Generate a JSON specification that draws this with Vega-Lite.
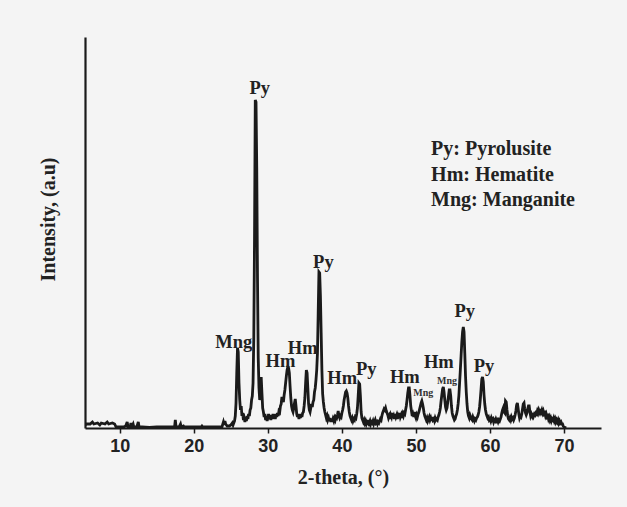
{
  "$schema": "https://vega.github.io/schema/vega-lite/v6.json",
  "width": 516,
  "height": 391,
  "autosize": {"type": "none"},
  "padding": {"left": 85, "top": 37, "right": 26, "bottom": 79},
  "background": "#f4f4f4",
  "config": {"view": {"stroke": null}},
  "datasets": {
    "spectrum": [
      {"t":5.3,"i":3},{"t":5.5,"i":4},{"t":6,"i":4},{"t":6.3,"i":6},{"t":6.5,"i":4},{"t":7,"i":5},{"t":7.3,"i":3},{"t":7.5,"i":5},{"t":8,"i":4},{"t":8.3,"i":6},{"t":8.5,"i":4},{"t":9,"i":5},{"t":9.3,"i":4},{"t":9.5,"i":1},{"t":10,"i":1},{"t":10.5,"i":1},{"t":10.8,"i":2},{"t":11,"i":6},{"t":11.1,"i":1},{"t":11.4,"i":1},{"t":11.5,"i":5},{"t":11.6,"i":1},{"t":11.8,"i":4},{"t":11.9,"i":1},{"t":12.3,"i":1},{"t":12.5,"i":6},{"t":12.6,"i":1},{"t":13,"i":1},{"t":14,"i":0.5},{"t":15,"i":1},{"t":16,"i":1},{"t":17,"i":1},{"t":17.4,"i":1},{"t":17.5,"i":8},{"t":17.6,"i":1},{"t":18,"i":1},{"t":18.2,"i":4},{"t":18.3,"i":1},{"t":18.6,"i":2},{"t":18.7,"i":1},{"t":19,"i":1},{"t":20,"i":1},{"t":21,"i":1},{"t":21.1,"i":2},{"t":21.2,"i":1},{"t":22,"i":1},{"t":23,"i":1},{"t":23.8,"i":1},{"t":24,"i":6},{"t":24.1,"i":3},{"t":24.2,"i":7},{"t":24.3,"i":4},{"t":24.5,"i":2},{"t":24.8,"i":2},{"t":25,"i":3},{"t":25.2,"i":5},{"t":25.3,"i":3},{"t":25.5,"i":7},{"t":25.6,"i":12},{"t":25.7,"i":25},{"t":25.8,"i":55},{"t":25.9,"i":80},{"t":26.0,"i":76},{"t":26.1,"i":45},{"t":26.2,"i":28},{"t":26.3,"i":18},{"t":26.4,"i":22},{"t":26.5,"i":12},{"t":26.6,"i":15},{"t":26.7,"i":8},{"t":26.8,"i":10},{"t":26.9,"i":6},{"t":27,"i":11},{"t":27.1,"i":7},{"t":27.2,"i":12},{"t":27.3,"i":9},{"t":27.4,"i":14},{"t":27.5,"i":12},{"t":27.6,"i":18},{"t":27.7,"i":20},{"t":27.8,"i":28},{"t":27.9,"i":32},{"t":28.0,"i":45},{"t":28.1,"i":90},{"t":28.2,"i":190},{"t":28.3,"i":328},{"t":28.4,"i":326},{"t":28.5,"i":260},{"t":28.6,"i":150},{"t":28.7,"i":70},{"t":28.8,"i":40},{"t":28.9,"i":28},{"t":29.0,"i":35},{"t":29.1,"i":51},{"t":29.2,"i":35},{"t":29.3,"i":20},{"t":29.4,"i":16},{"t":29.5,"i":11},{"t":29.6,"i":14},{"t":29.7,"i":8},{"t":29.8,"i":12},{"t":29.9,"i":7},{"t":30,"i":10},{"t":30.1,"i":14},{"t":30.2,"i":9},{"t":30.3,"i":13},{"t":30.4,"i":8},{"t":30.5,"i":12},{"t":30.6,"i":9},{"t":30.7,"i":14},{"t":30.8,"i":10},{"t":30.9,"i":13},{"t":31,"i":9},{"t":31.1,"i":14},{"t":31.2,"i":11},{"t":31.3,"i":15},{"t":31.4,"i":12},{"t":31.5,"i":17},{"t":31.6,"i":16},{"t":31.7,"i":22},{"t":31.8,"i":24},{"t":31.9,"i":31},{"t":32.0,"i":28},{"t":32.1,"i":26},{"t":32.2,"i":33},{"t":32.3,"i":38},{"t":32.4,"i":45},{"t":32.5,"i":52},{"t":32.6,"i":58},{"t":32.7,"i":61},{"t":32.8,"i":60},{"t":32.9,"i":55},{"t":33.0,"i":42},{"t":33.1,"i":30},{"t":33.2,"i":22},{"t":33.3,"i":18},{"t":33.4,"i":16},{"t":33.5,"i":20},{"t":33.6,"i":25},{"t":33.7,"i":29},{"t":33.8,"i":22},{"t":33.9,"i":14},{"t":34.0,"i":11},{"t":34.1,"i":14},{"t":34.2,"i":9},{"t":34.3,"i":13},{"t":34.4,"i":10},{"t":34.5,"i":14},{"t":34.6,"i":11},{"t":34.7,"i":15},{"t":34.8,"i":16},{"t":34.9,"i":22},{"t":35.0,"i":30},{"t":35.1,"i":45},{"t":35.2,"i":58},{"t":35.3,"i":55},{"t":35.4,"i":40},{"t":35.5,"i":24},{"t":35.6,"i":18},{"t":35.7,"i":16},{"t":35.8,"i":20},{"t":35.9,"i":24},{"t":36.0,"i":21},{"t":36.1,"i":26},{"t":36.2,"i":28},{"t":36.3,"i":36},{"t":36.4,"i":40},{"t":36.5,"i":48},{"t":36.6,"i":58},{"t":36.7,"i":75},{"t":36.8,"i":115},{"t":36.9,"i":156},{"t":37.0,"i":155},{"t":37.1,"i":132},{"t":37.2,"i":95},{"t":37.3,"i":58},{"t":37.4,"i":34},{"t":37.5,"i":26},{"t":37.6,"i":20},{"t":37.7,"i":16},{"t":37.8,"i":13},{"t":37.9,"i":10},{"t":38.0,"i":12},{"t":38.1,"i":8},{"t":38.2,"i":10},{"t":38.3,"i":7},{"t":38.4,"i":10},{"t":38.5,"i":6},{"t":38.6,"i":9},{"t":38.7,"i":6},{"t":38.8,"i":9},{"t":38.9,"i":7},{"t":39.0,"i":10},{"t":39.1,"i":8},{"t":39.2,"i":11},{"t":39.3,"i":10},{"t":39.4,"i":13},{"t":39.5,"i":17},{"t":39.6,"i":12},{"t":39.7,"i":10},{"t":39.8,"i":12},{"t":39.9,"i":11},{"t":40.0,"i":15},{"t":40.1,"i":18},{"t":40.2,"i":22},{"t":40.3,"i":28},{"t":40.4,"i":32},{"t":40.5,"i":36},{"t":40.6,"i":37},{"t":40.7,"i":35},{"t":40.8,"i":30},{"t":40.9,"i":22},{"t":41,"i":16},{"t":41.1,"i":12},{"t":41.2,"i":10},{"t":41.3,"i":8},{"t":41.4,"i":10},{"t":41.5,"i":7},{"t":41.6,"i":9},{"t":41.7,"i":8},{"t":41.8,"i":11},{"t":41.9,"i":10},{"t":42.0,"i":14},{"t":42.1,"i":20},{"t":42.2,"i":32},{"t":42.3,"i":45},{"t":42.4,"i":44},{"t":42.5,"i":32},{"t":42.6,"i":16},{"t":42.7,"i":10},{"t":42.8,"i":8},{"t":42.9,"i":6},{"t":43,"i":8},{"t":43.1,"i":5},{"t":43.2,"i":7},{"t":43.3,"i":4},{"t":43.4,"i":6},{"t":43.5,"i":5},{"t":43.6,"i":8},{"t":43.7,"i":5},{"t":43.8,"i":7},{"t":43.9,"i":4},{"t":44.0,"i":6},{"t":44.1,"i":5},{"t":44.2,"i":7},{"t":44.3,"i":4},{"t":44.4,"i":6},{"t":44.5,"i":8},{"t":44.6,"i":5},{"t":44.7,"i":6},{"t":44.8,"i":4},{"t":44.9,"i":6},{"t":45.0,"i":5},{"t":45.1,"i":7},{"t":45.2,"i":9},{"t":45.3,"i":8},{"t":45.4,"i":12},{"t":45.5,"i":15},{"t":45.6,"i":17},{"t":45.7,"i":19},{"t":45.8,"i":18},{"t":45.9,"i":20},{"t":46.0,"i":17},{"t":46.1,"i":15},{"t":46.2,"i":13},{"t":46.3,"i":10},{"t":46.4,"i":12},{"t":46.5,"i":9},{"t":46.6,"i":13},{"t":46.7,"i":11},{"t":46.8,"i":15},{"t":46.9,"i":10},{"t":47,"i":12},{"t":47.1,"i":9},{"t":47.2,"i":14},{"t":47.3,"i":11},{"t":47.4,"i":13},{"t":47.5,"i":9},{"t":47.6,"i":12},{"t":47.7,"i":10},{"t":47.8,"i":15},{"t":47.9,"i":11},{"t":48,"i":13},{"t":48.1,"i":10},{"t":48.2,"i":14},{"t":48.3,"i":12},{"t":48.4,"i":15},{"t":48.5,"i":14},{"t":48.6,"i":18},{"t":48.7,"i":22},{"t":48.8,"i":28},{"t":48.9,"i":35},{"t":49.0,"i":40},{"t":49.1,"i":40},{"t":49.2,"i":32},{"t":49.3,"i":22},{"t":49.4,"i":17},{"t":49.5,"i":12},{"t":49.6,"i":14},{"t":49.7,"i":11},{"t":49.8,"i":16},{"t":49.9,"i":12},{"t":50.0,"i":10},{"t":50.1,"i":13},{"t":50.2,"i":11},{"t":50.3,"i":14},{"t":50.4,"i":16},{"t":50.5,"i":19},{"t":50.6,"i":22},{"t":50.7,"i":25},{"t":50.8,"i":27},{"t":50.9,"i":24},{"t":51.0,"i":20},{"t":51.1,"i":15},{"t":51.2,"i":12},{"t":51.3,"i":10},{"t":51.4,"i":8},{"t":51.5,"i":10},{"t":51.6,"i":7},{"t":51.7,"i":9},{"t":51.8,"i":11},{"t":51.9,"i":8},{"t":52,"i":10},{"t":52.1,"i":7},{"t":52.2,"i":11},{"t":52.3,"i":8},{"t":52.4,"i":9},{"t":52.5,"i":7},{"t":52.6,"i":10},{"t":52.7,"i":8},{"t":52.8,"i":9},{"t":52.9,"i":8},{"t":53,"i":11},{"t":53.1,"i":13},{"t":53.2,"i":16},{"t":53.3,"i":20},{"t":53.4,"i":27},{"t":53.5,"i":33},{"t":53.6,"i":39},{"t":53.7,"i":41},{"t":53.8,"i":36},{"t":53.9,"i":28},{"t":54.0,"i":21},{"t":54.1,"i":18},{"t":54.2,"i":20},{"t":54.3,"i":26},{"t":54.4,"i":32},{"t":54.5,"i":38},{"t":54.6,"i":38},{"t":54.7,"i":32},{"t":54.8,"i":22},{"t":54.9,"i":15},{"t":55.0,"i":12},{"t":55.1,"i":10},{"t":55.2,"i":8},{"t":55.3,"i":9},{"t":55.4,"i":12},{"t":55.5,"i":14},{"t":55.6,"i":18},{"t":55.7,"i":24},{"t":55.8,"i":32},{"t":55.9,"i":45},{"t":56.0,"i":58},{"t":56.1,"i":72},{"t":56.2,"i":86},{"t":56.3,"i":96},{"t":56.4,"i":101},{"t":56.5,"i":96},{"t":56.6,"i":75},{"t":56.7,"i":52},{"t":56.8,"i":36},{"t":56.9,"i":24},{"t":57.0,"i":16},{"t":57.1,"i":12},{"t":57.2,"i":10},{"t":57.3,"i":13},{"t":57.4,"i":11},{"t":57.5,"i":9},{"t":57.6,"i":8},{"t":57.7,"i":11},{"t":57.8,"i":9},{"t":57.9,"i":7},{"t":58.0,"i":9},{"t":58.1,"i":8},{"t":58.2,"i":10},{"t":58.3,"i":11},{"t":58.4,"i":13},{"t":58.5,"i":16},{"t":58.6,"i":21},{"t":58.7,"i":29},{"t":58.8,"i":39},{"t":58.9,"i":49},{"t":59.0,"i":51},{"t":59.1,"i":46},{"t":59.2,"i":33},{"t":59.3,"i":24},{"t":59.4,"i":18},{"t":59.5,"i":14},{"t":59.6,"i":12},{"t":59.7,"i":10},{"t":59.8,"i":11},{"t":59.9,"i":8},{"t":60,"i":9},{"t":60.1,"i":7},{"t":60.2,"i":10},{"t":60.3,"i":8},{"t":60.4,"i":9},{"t":60.5,"i":6},{"t":60.6,"i":8},{"t":60.7,"i":7},{"t":60.8,"i":9},{"t":60.9,"i":7},{"t":61.0,"i":8},{"t":61.1,"i":6},{"t":61.2,"i":8},{"t":61.3,"i":7},{"t":61.4,"i":9},{"t":61.5,"i":11},{"t":61.6,"i":15},{"t":61.7,"i":18},{"t":61.8,"i":20},{"t":61.9,"i":16},{"t":62.0,"i":15},{"t":62.1,"i":27},{"t":62.2,"i":26},{"t":62.3,"i":18},{"t":62.4,"i":12},{"t":62.5,"i":9},{"t":62.6,"i":8},{"t":62.7,"i":10},{"t":62.8,"i":8},{"t":62.9,"i":11},{"t":63.0,"i":9},{"t":63.1,"i":10},{"t":63.2,"i":8},{"t":63.3,"i":10},{"t":63.4,"i":13},{"t":63.5,"i":17},{"t":63.6,"i":23},{"t":63.7,"i":25},{"t":63.8,"i":20},{"t":63.9,"i":14},{"t":64.0,"i":10},{"t":64.1,"i":12},{"t":64.2,"i":11},{"t":64.3,"i":14},{"t":64.4,"i":19},{"t":64.5,"i":24},{"t":64.6,"i":25},{"t":64.7,"i":19},{"t":64.8,"i":15},{"t":64.9,"i":13},{"t":65.0,"i":15},{"t":65.1,"i":19},{"t":65.2,"i":22},{"t":65.3,"i":22},{"t":65.4,"i":16},{"t":65.5,"i":12},{"t":65.6,"i":14},{"t":65.7,"i":12},{"t":65.8,"i":15},{"t":65.9,"i":12},{"t":66.0,"i":14},{"t":66.1,"i":13},{"t":66.2,"i":15},{"t":66.3,"i":14},{"t":66.4,"i":17},{"t":66.5,"i":15},{"t":66.6,"i":18},{"t":66.7,"i":16},{"t":66.8,"i":19},{"t":66.9,"i":16},{"t":67.0,"i":18},{"t":67.1,"i":15},{"t":67.2,"i":17},{"t":67.3,"i":14},{"t":67.4,"i":15},{"t":67.5,"i":12},{"t":67.6,"i":14},{"t":67.7,"i":11},{"t":67.8,"i":12},{"t":67.9,"i":9},{"t":68,"i":11},{"t":68.1,"i":8},{"t":68.2,"i":10},{"t":68.3,"i":7},{"t":68.4,"i":9},{"t":68.5,"i":8},{"t":68.6,"i":10},{"t":68.7,"i":7},{"t":68.8,"i":9},{"t":68.9,"i":6},{"t":69.0,"i":8},{"t":69.1,"i":6},{"t":69.2,"i":8},{"t":69.3,"i":5},{"t":69.4,"i":7},{"t":69.5,"i":5},{"t":69.6,"i":6},{"t":69.7,"i":4},{"t":69.8,"i":4},{"t":69.9,"i":2},{"t":70.0,"i":1},{"t":70.3,"i":0}
    ],
    "labels": [
      {"t":28.9,"i":340,"txt":"Py","size":"big"},
      {"t":25.4,"i":86,"txt":"Mng","size":"big"},
      {"t":31.7,"i":67,"txt":"Hm","size":"big"},
      {"t":34.7,"i":80,"txt":"Hm","size":"big"},
      {"t":37.5,"i":166,"txt":"Py","size":"big"},
      {"t":40.05,"i":50,"txt":"Hm","size":"big"},
      {"t":43.3,"i":59,"txt":"Py","size":"big"},
      {"t":48.5,"i":51,"txt":"Hm","size":"big"},
      {"t":53.1,"i":66,"txt":"Hm","size":"big"},
      {"t":56.6,"i":117,"txt":"Py","size":"big"},
      {"t":59.2,"i":62,"txt":"Py","size":"big"},
      {"t":51.0,"i":35,"txt":"Mng","size":"small"},
      {"t":54.2,"i":47,"txt":"Mng","size":"small"}
    ],
    "legend": [
      {"t":52.05,"i":279,"txt":"Py: Pyrolusite"},
      {"t":52.05,"i":253,"txt":"Hm: Hematite"},
      {"t":52.05,"i":228,"txt":"Mng: Manganite"}
    ]
  },
  "layer": [
    {
      "data": {"name": "spectrum"},
      "mark": {"type": "line", "color": "#1a1a1a", "strokeWidth": 2.8, "clip": true},
      "encoding": {
        "x": {
          "field": "t", "type": "quantitative",
          "scale": {"domain": [5.3, 75], "nice": false, "zero": false},
          "axis": {
            "title": "2-theta, (°)",
            "values": [10, 15, 20, 25, 30, 35, 40, 45, 50, 55, 60, 65, 70, 75],
            "labelExpr": "datum.value % 10 == 0 ? datum.label : ''",
            "grid": false,
            "domainColor": "#1a1a1a", "domainWidth": 2.2,
            "tickColor": "#1a1a1a", "tickWidth": 1.5, "tickSize": 5,
            "labelFont": "Liberation Sans", "labelFontWeight": "bold", "labelFontSize": 18, "labelColor": "#222222",
            "labelPadding": 4, "labelFlush": false,
            "titleFont": "Liberation Serif", "titleFontWeight": "bold", "titleFontSize": 20, "titleColor": "#222222",
            "titlePadding": 12
          }
        },
        "y": {
          "field": "i", "type": "quantitative",
          "scale": {"domain": [0, 391], "nice": false},
          "axis": {
            "title": "Intensity, (a.u)",
            "ticks": false, "labels": false, "grid": false,
            "domainColor": "#1a1a1a", "domainWidth": 2.2,
            "titleFont": "Liberation Serif", "titleFontWeight": "bold", "titleFontSize": 20, "titleColor": "#222222",
            "titlePadding": 27, "titleY": 182
          }
        }
      }
    },
    {
      "data": {"name": "labels"},
      "transform": [{"filter": "datum.size == 'big'"}],
      "mark": {"type": "text", "font": "Liberation Serif", "fontWeight": "bold", "fontSize": 18.5, "color": "#222222", "align": "center", "baseline": "middle"},
      "encoding": {
        "x": {"field": "t", "type": "quantitative"},
        "y": {"field": "i", "type": "quantitative"},
        "text": {"field": "txt"}
      }
    },
    {
      "data": {"name": "labels"},
      "transform": [{"filter": "datum.size == 'small'"}],
      "mark": {"type": "text", "font": "Liberation Serif", "fontWeight": "bold", "fontSize": 10, "color": "#333333", "align": "center", "baseline": "middle"},
      "encoding": {
        "x": {"field": "t", "type": "quantitative"},
        "y": {"field": "i", "type": "quantitative"},
        "text": {"field": "txt"}
      }
    },
    {
      "data": {"name": "legend"},
      "mark": {"type": "text", "font": "Liberation Serif", "fontWeight": "bold", "fontSize": 20, "color": "#222222", "align": "left", "baseline": "middle"},
      "encoding": {
        "x": {"field": "t", "type": "quantitative"},
        "y": {"field": "i", "type": "quantitative"},
        "text": {"field": "txt"}
      }
    }
  ]
}
